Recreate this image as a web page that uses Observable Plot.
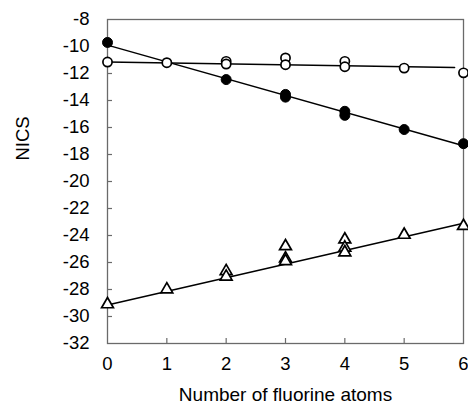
<!DOCTYPE html>
<html>
<head>
<meta charset="utf-8">
<script src="https://cdn.jsdelivr.net/npm/d3@7"></script>
<script src="https://cdn.jsdelivr.net/npm/@observablehq/plot@0.6"></script>
<style>
  html, body { margin: 0; padding: 0; background: #fff; }
</style>
</head>
<body>
<div id="chart"></div>
<script>
// Filled circles
const filledX = [0, 2, 3, 3, 4, 4, 5, 6];
const filledY = [-9.7, -12.45, -13.55, -13.75, -14.8, -15.1, -16.15, -17.2];
// Open circles
const openX = [0, 1, 2, 2, 3, 3, 4, 4, 5, 6];
const openY = [-11.15, -11.2, -11.1, -11.3, -10.85, -11.35, -11.1, -11.5, -11.6, -11.95];
// Open triangles
const triX = [0, 1, 2, 2, 3, 3, 3, 4, 4, 4, 5, 6];
const triY = [-29.1, -28.0, -26.65, -27.05, -24.8, -25.7, -25.9, -24.3, -24.9, -25.25, -23.95, -23.3];
// Fitted lines (endpoints)
const filledFitX = [0, 6];
const filledFitY = [-9.9, -17.35];
const openFitX = [0, 5.85];
const openFitY = [-11.15, -11.55];
const triFitX = [0, 6];
const triFitY = [-29.15, -23.1];
// Ticks
const xTicks = [0, 1, 2, 3, 4, 5, 6];
const yTicks = [-8, -10, -12, -14, -16, -18, -20, -22, -24, -26, -28, -30, -32];

const pts = (xs, ys) => xs.map((x, i) => ({x, y: ys[i]}));
const font = "Arial, 'Liberation Sans', Helvetica, sans-serif";

const chart = Plot.plot({
  width: 468,
  height: 411,
  marginLeft: 107,
  marginRight: 5,
  marginTop: 19,
  marginBottom: 68,
  style: {fontFamily: font, background: "#fff"},
  x: {domain: [0, 6], axis: null},
  y: {domain: [-32, -8], axis: null},
  marks: [
    Plot.frame({stroke: "#6a6a6a", strokeWidth: 1.3}),
    Plot.tickY(yTicks.slice(1, -1), {y: d => d, stroke: "#6a6a6a", strokeWidth: 1.2, insetRight: 351}),
    Plot.tickX(xTicks.slice(1, -1), {x: d => d, stroke: "#6a6a6a", strokeWidth: 1.2, insetTop: 319}),
    Plot.text(yTicks, {y: d => d, text: d => String(d).replace("\u2212", "-"), frameAnchor: "left", dx: -18, textAnchor: "end", fontSize: 18.5, fill: "#000"}),
    Plot.text(xTicks, {x: d => d, text: d => String(d), frameAnchor: "bottom", dy: 26.5, fontSize: 18.5, fill: "#000"}),
    Plot.text(["NICS"], {frameAnchor: "left", dx: -84, dy: -21, rotate: -90, fontSize: 18.5, fill: "#000"}),
    Plot.text(["Number of fluorine atoms"], {frameAnchor: "bottom", dy: 57, fontSize: 19, fill: "#000"}),
    Plot.line(pts(filledFitX, filledFitY), {x: "x", y: "y", stroke: "#000", strokeWidth: 1.5}),
    Plot.line(pts(openFitX, openFitY), {x: "x", y: "y", stroke: "#000", strokeWidth: 1.5}),
    Plot.line(pts(triFitX, triFitY), {x: "x", y: "y", stroke: "#000", strokeWidth: 1.5}),
    Plot.dot(pts(triX, triY), {x: "x", y: "y", symbol: "triangle", r: 4.4, fill: "#fff", stroke: "#000", strokeWidth: 1.7}),
    Plot.dot(pts(openX, openY), {x: "x", y: "y", r: 4.6, fill: "#fff", stroke: "#000", strokeWidth: 1.7}),
    Plot.dot(pts(filledX, filledY), {x: "x", y: "y", r: 5, fill: "#000", stroke: "#000", strokeWidth: 1})
  ]
});
document.getElementById("chart").appendChild(chart);
</script>
</body>
</html>
